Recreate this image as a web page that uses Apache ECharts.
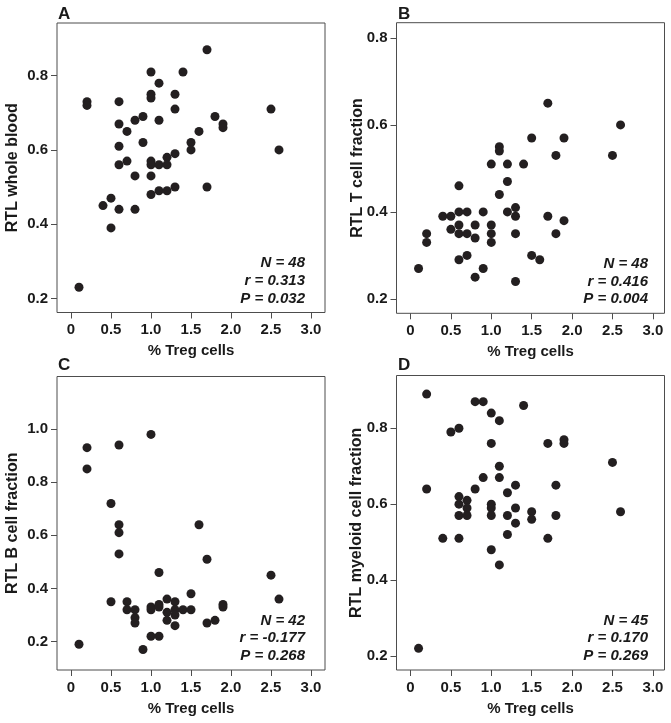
<!DOCTYPE html>
<html>
<head>
<meta charset="utf-8">
<script src="https://cdn.jsdelivr.net/npm/echarts@6/dist/echarts.min.js"></script>
<style>
html,body{margin:0;padding:0;background:#fff;}
#chart{width:671px;height:723px;}
</style>
</head>
<body>
<div id="chart"></div>
<script>
// Panel A: RTL whole blood
const tregA = [0.1,0.2,0.2,0.4,0.5,0.5,0.6,0.6,0.6,0.6,0.6,0.7,0.7,0.8,0.8,0.8,0.9,0.9,1.0,1.0,1.0,1.0,1.0,1.0,1.0,1.1,1.1,1.1,1.1,1.2,1.2,1.2,1.3,1.3,1.3,1.3,1.4,1.5,1.5,1.6,1.7,1.7,1.8,1.9,1.9,2.5,2.6];
const rtlA  = [0.23,0.73,0.72,0.45,0.47,0.39,0.73,0.67,0.61,0.56,0.44,0.65,0.57,0.68,0.53,0.44,0.69,0.62,0.81,0.75,0.74,0.57,0.56,0.53,0.48,0.78,0.68,0.56,0.49,0.58,0.56,0.49,0.75,0.71,0.59,0.50,0.81,0.62,0.60,0.65,0.87,0.50,0.69,0.67,0.66,0.71,0.60];
// Panel B: RTL T cell fraction
const tregB = [0.1,0.2,0.2,0.4,0.5,0.5,0.6,0.6,0.6,0.6,0.6,0.7,0.7,0.7,0.8,0.8,0.8,0.9,0.9,1.0,1.0,1.0,1.0,1.1,1.1,1.1,1.2,1.2,1.2,1.3,1.3,1.3,1.3,1.4,1.5,1.5,1.6,1.7,1.7,1.8,1.8,1.9,1.9,2.5,2.6];
const rtlB  = [0.27,0.35,0.33,0.39,0.39,0.36,0.46,0.40,0.37,0.35,0.29,0.40,0.35,0.30,0.37,0.34,0.25,0.40,0.27,0.51,0.37,0.35,0.33,0.55,0.54,0.44,0.51,0.47,0.40,0.41,0.39,0.35,0.24,0.51,0.57,0.30,0.29,0.65,0.39,0.53,0.35,0.57,0.38,0.53,0.60];
// Panel C: RTL B cell fraction
const tregC = [0.1,0.2,0.2,0.5,0.5,0.6,0.6,0.6,0.6,0.7,0.7,0.8,0.8,0.8,0.9,1.0,1.0,1.0,1.0,1.1,1.1,1.1,1.1,1.2,1.2,1.2,1.3,1.3,1.3,1.3,1.4,1.5,1.5,1.6,1.7,1.7,1.8,1.9,1.9,2.5,2.6];
const rtlC  = [0.19,0.93,0.85,0.72,0.35,0.94,0.64,0.61,0.53,0.35,0.32,0.32,0.29,0.27,0.17,0.98,0.33,0.32,0.22,0.46,0.34,0.33,0.22,0.36,0.31,0.28,0.35,0.32,0.30,0.26,0.32,0.38,0.32,0.64,0.51,0.27,0.28,0.34,0.33,0.45,0.36];
// Panel D: RTL myeloid cell fraction
const tregD = [0.1,0.2,0.2,0.4,0.5,0.6,0.6,0.6,0.6,0.6,0.7,0.7,0.7,0.8,0.8,0.9,0.9,1.0,1.0,1.0,1.0,1.0,1.0,1.1,1.1,1.1,1.1,1.2,1.2,1.2,1.3,1.3,1.3,1.4,1.5,1.5,1.7,1.7,1.8,1.8,1.9,1.9,2.5,2.6];
const rtlD  = [0.22,0.89,0.64,0.51,0.79,0.80,0.62,0.60,0.57,0.51,0.61,0.59,0.57,0.87,0.64,0.87,0.67,0.84,0.76,0.60,0.59,0.57,0.48,0.82,0.70,0.67,0.44,0.63,0.57,0.52,0.65,0.59,0.55,0.86,0.58,0.56,0.76,0.51,0.65,0.57,0.77,0.76,0.71,0.58];

const xTicks = [0,0.5,1.0,1.5,2.0,2.5,3.0];
const yTicksA = [0.2,0.4,0.6,0.8];
const yTicksB = [0.2,0.4,0.6,0.8];
const yTicksC = [0.2,0.4,0.6,0.8,1.0];
const yTicksD = [0.2,0.4,0.6,0.8];

const panelLetters = ['A','B','C','D'];
const yTitles = ['RTL whole blood','RTL T cell fraction','RTL B cell fraction','RTL myeloid cell fraction'];
const xTitle = '% Treg cells';
const statsN = ['N = 48','N = 48','N = 42','N = 45'];
const statsR = ['r = 0.313','r = 0.416','r = -0.177','r = 0.170'];
const statsP = ['P = 0.032','P = 0.004','P = 0.268','P = 0.269'];

const FONT = '"Liberation Sans", Arial, Helvetica, sans-serif';
const TXT = '#1a1a1a';
const FRAME = '#4d4d4d';

const grids = [
  {left:57, top:23, width:268, height:289.5},
  {left:396.5, top:22.7, width:268, height:290.6},
  {left:57, top:376.5, width:268, height:293.5},
  {left:396.5, top:375.5, width:268, height:294.5}
];
const xRanges = [[-0.175,3.175],[-0.173,3.144],[-0.175,3.175],[-0.173,3.144]];
const yRanges = [[0.162,0.942],[0.167,0.835],[0.093,1.198],[0.163,0.939]];
const yNameGaps = [36,31,36,32];
const yTickSets = [yTicksA,yTicksB,yTicksC,yTicksD];
const dataSets = [[tregA,rtlA],[tregB,rtlB],[tregC,rtlC],[tregD,rtlD]];

const option = {
  backgroundColor:'#ffffff',
  animation:false,
  grid: grids.map(g => Object.assign({show:true, borderColor:FRAME, borderWidth:1, backgroundColor:'transparent', containLabel:false}, g)),
  xAxis: grids.map((g,i) => ({
    type:'value', gridIndex:i, min:xRanges[i][0], max:xRanges[i][1],
    position:'bottom',
    name:xTitle, nameLocation:'middle', nameGap:31, nameMoveOverlap:false,
    nameTextStyle:{fontFamily:FONT, fontWeight:'bold', fontSize:15, color:TXT},
    axisLine:{show:false, onZero:false},
    splitLine:{show:false},
    axisTick:{show:true, length:6, lineStyle:{color:FRAME, width:1}, customValues:xTicks},
    axisLabel:{show:true, margin:10, fontFamily:FONT, fontWeight:'bold', fontSize:15, color:TXT,
      customValues:xTicks, formatter:v => v === 0 ? '0' : v.toFixed(1)}
  })),
  yAxis: grids.map((g,i) => ({
    type:'value', gridIndex:i, min:yRanges[i][0], max:yRanges[i][1],
    position:'left',
    name:yTitles[i], nameLocation:'middle', nameGap:yNameGaps[i], nameRotate:90, nameMoveOverlap:false,
    nameTextStyle:{fontFamily:FONT, fontWeight:'bold', fontSize:16, color:TXT},
    axisLine:{show:false, onZero:false},
    splitLine:{show:false},
    axisTick:{show:true, length:6, lineStyle:{color:FRAME, width:1}, customValues:yTickSets[i]},
    axisLabel:{show:true, margin:9, fontFamily:FONT, fontWeight:'bold', fontSize:15, color:TXT,
      customValues:yTickSets[i], formatter:v => v.toFixed(1)}
  })),
  series: dataSets.map((d,i) => ({
    type:'scatter', xAxisIndex:i, yAxisIndex:i,
    symbol:'circle', symbolSize:9,
    itemStyle:{color:'#231f20', opacity:1},
    data: d[0].map((x,k) => [x, d[1][k]])
  })),
  graphic: []
};

const letterPos = [[58,14],[398,14],[58,365],[398,365]];
const statPos = [[305,[263,281,299]],[648,[264,282,299]],[305,[621,638,656]],[648,[621,638,656]]];
for (let i = 0; i < 4; i++) {
  option.graphic.push({type:'text', x:letterPos[i][0], y:letterPos[i][1],
    style:{text:panelLetters[i], fontFamily:FONT, fontWeight:'bold', fontSize:17, fill:TXT, align:'left', verticalAlign:'middle'}});
  const lines = [statsN[i], statsR[i], statsP[i]];
  lines.forEach((t,k) => {
    option.graphic.push({type:'text', x:statPos[i][0], y:statPos[i][1][k],
      style:{text:t, fontFamily:FONT, fontWeight:'bold', fontStyle:'italic', fontSize:15, fill:TXT, align:'right', verticalAlign:'middle'}});
  });
}

const chart = echarts.init(document.getElementById('chart'), null, {renderer:'canvas'});
chart.setOption(option);
</script>
</body>
</html>
